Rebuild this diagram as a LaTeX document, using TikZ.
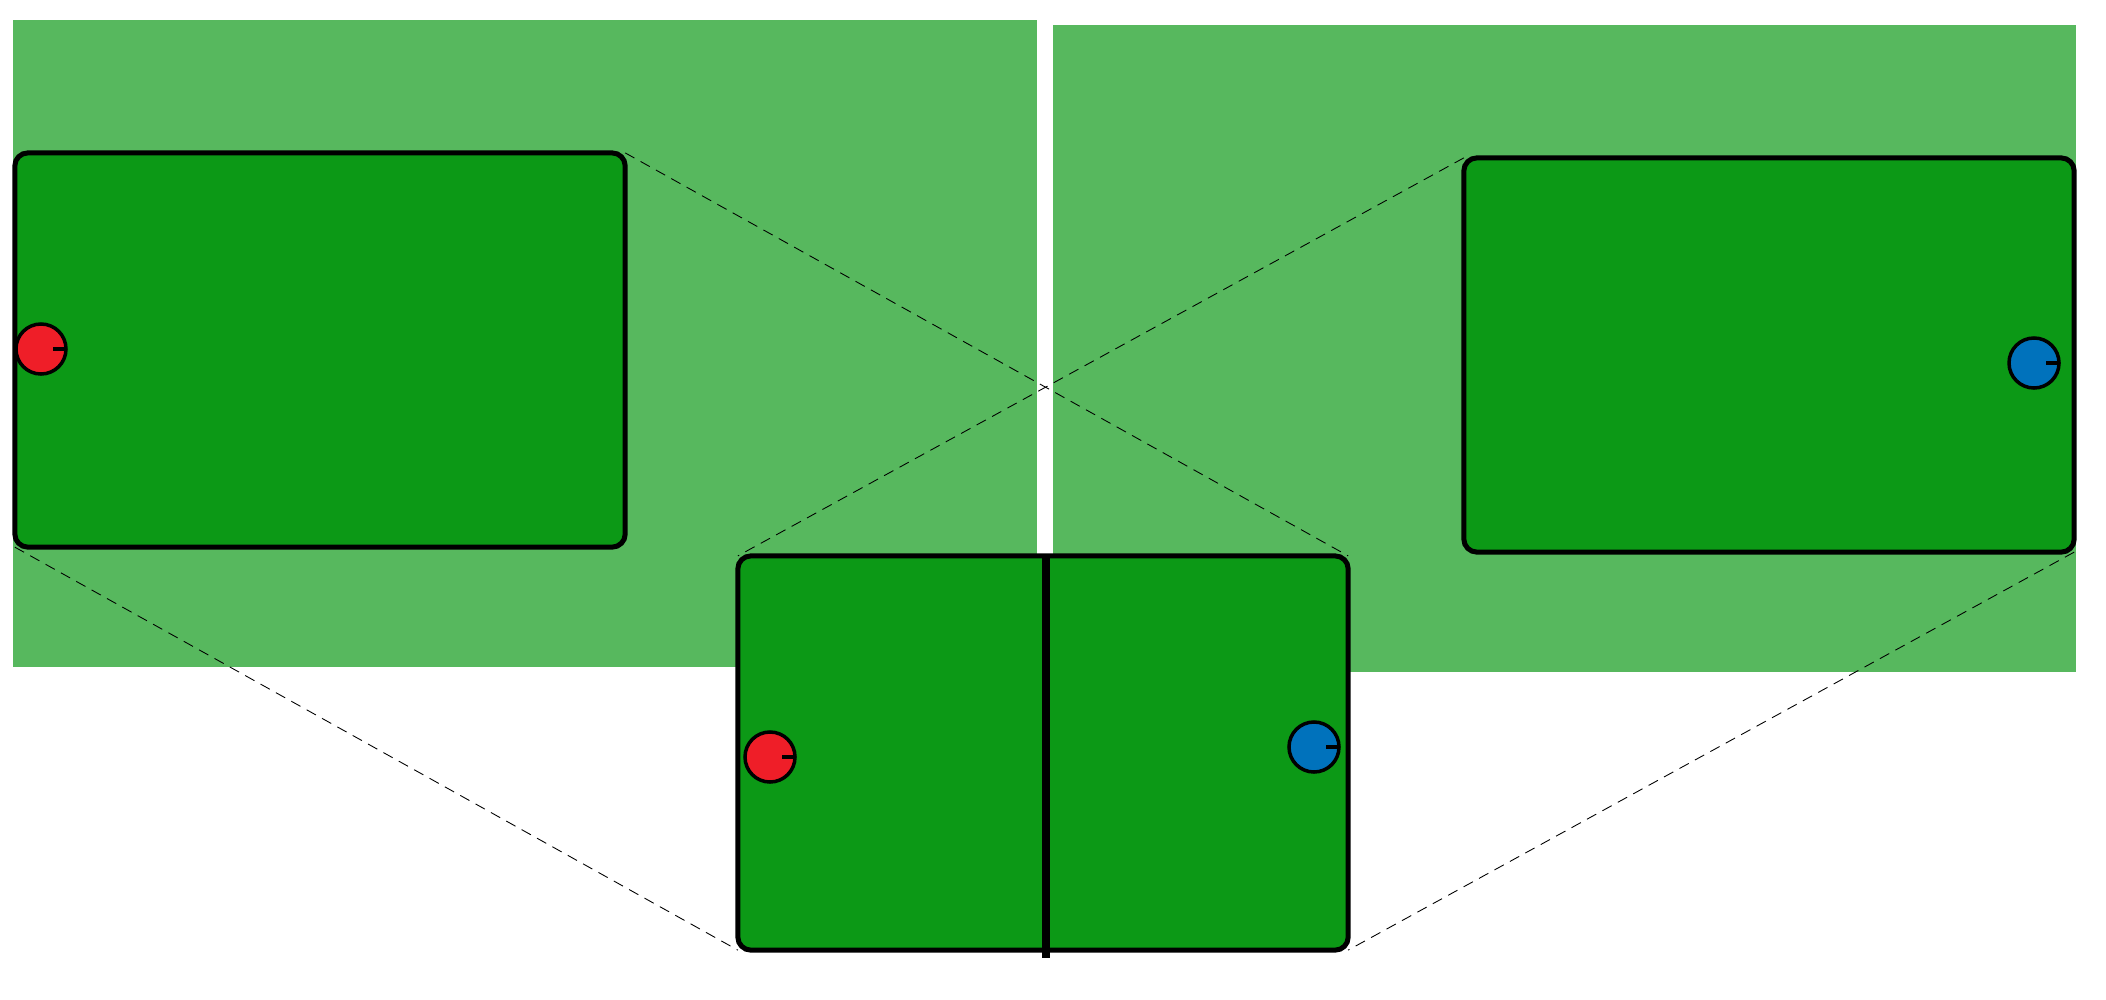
\documentclass[tikz,border=0pt]{standalone}
\usepackage{xcolor}
\definecolor{turf}{RGB}{87,184,94}
\definecolor{pitch}{RGB}{12,153,22}
\definecolor{botred}{RGB}{239,30,40}
\definecolor{botblue}{RGB}{0,114,188}

\begin{document}
\begin{tikzpicture}[x=0.01cm,y=-0.01cm,
    field/.style={draw,fill=pitch,line width=0.05cm,rounded corners=0.13cm,
      minimum width=6.1cm,minimum height=3.94cm,inner sep=0pt,outer sep=0pt},
    robot/.style={circle,draw,line width=0.035cm,minimum size=0.5cm,inner sep=0pt,outer sep=0pt},
    zoomline/.style={line width=0.25pt,dash pattern=on 3pt off 2pt}]
    \useasboundingbox (0,0) rectangle (2106,1000);
    \fill[turf] (13,20) rectangle (1037,667); \fill[turf] (1053,25) rectangle (2076,672);
    \node[field] (leftfield) at (320,350) {}; \node[field] (rightfield) at (1769,355) {};
    \node[field] (midfield) at (1043,753) {};
    \draw[line width=0.08cm] ([xshift=0.03cm]midfield.north) -- ([xshift=0.03cm,yshift=-0.08cm]midfield.south);
    \draw[zoomline] (leftfield.north east) -- (midfield.north east);
    \draw[zoomline] (leftfield.south west) -- (midfield.south west);
    \draw[zoomline] (rightfield.north west) -- (midfield.north west);
    \draw[zoomline] (rightfield.south east) -- (midfield.south east);
    \node[robot,fill=botred] (redfar) at (41,349) {};
    \node[robot,fill=botblue] (bluefar) at (2034,363) {};
    \node[robot,fill=botred] (rednear) at (770,757) {};
    \node[robot,fill=botblue] (bluenear) at (1314,747) {};
    \foreach \r in {redfar,bluefar,rednear,bluenear} {
      \draw[line width=0.035cm] ([xshift=0.12cm]\r.center) -- (\r.east); }
  \end{tikzpicture}
\end{document}
